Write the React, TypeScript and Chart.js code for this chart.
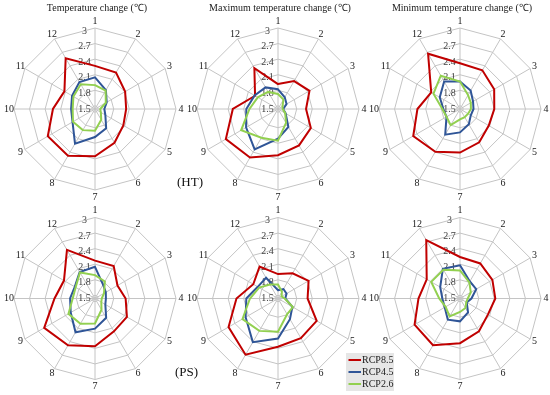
import { useEffect, useRef } from "react";
import { Chart, registerables } from "chart.js";

Chart.register(...registerables);

const MONTHS = ["1", "2", "3", "4", "5", "6", "7", "8", "9", "10", "11", "12"];
const TICKS = [1.5, 1.8, 2.1, 2.4, 2.7, 3];
const TICK_LABELS = ["1.5", "1.8", "2.1", "2.4", "2.7", "3"];
const SCALE_MIN = 1.44;
const SCALE_MAX = 3;
const SERIES_NAMES = ["RCP8.5", "RCP4.5", "RCP2.6"];
const SERIES_COLORS = ["#c00000", "#2f5597", "#92d050"];
const TITLES = [
  "Temperature change (\u2103)",
  "Maximum temperature change (\u2103)",
  "Minimum temperature change (\u2103)",
];
const GROUPS = ["(HT)", "(PS)"];

// HT – mean temperature
const HT_T_85 = [2.27, 2.25, 2.11, 2.04, 2.07, 2.19, 2.35, 2.48, 2.49, 2.25, 2.12, 2.57];
const HT_T_45 = [2.05, 1.86, 1.7, 1.62, 1.67, 1.87, 1.98, 2.21, 1.94, 1.9, 1.95, 2.04];
const HT_T_26 = [1.9, 1.85, 1.68, 1.54, 1.57, 1.68, 1.86, 1.91, 1.93, 1.87, 1.92, 1.99];
// HT – maximum temperature
const HT_MAX_85 = [1.92, 2.06, 2.14, 1.98, 2.17, 2.25, 2.33, 2.52, 2.6, 2.31, 1.95, 2.35];
const HT_MAX_45 = [1.82, 1.7, 1.63, 1.54, 1.61, 1.84, 2.01, 2.34, 2.15, 2.05, 1.96, 1.92];
const HT_MAX_26 = [1.73, 1.65, 1.54, 1.53, 1.6, 1.75, 2.05, 2.08, 2.26, 1.99, 1.89, 1.82];
// HT – minimum temperature
const HT_MIN_85 = [2.32, 2.3, 2.2, 2.1, 2.08, 2.18, 2.28, 2.39, 2.48, 2.26, 2.08, 2.67];
const HT_MIN_45 = [1.97, 1.85, 1.73, 1.7, 1.68, 1.78, 1.89, 2.01, 1.74, 1.76, 1.89, 2.05];
const HT_MIN_26 = [1.97, 1.75, 1.68, 1.65, 1.62, 1.62, 1.64, 1.8, 1.74, 1.78, 2.03, 2.18];
// PS – mean temperature
const PS_T_85 = [2.17, 2.16, 1.94, 2.03, 2.15, 2.17, 2.36, 2.48, 2.57, 2.22, 2.13, 2.52];
const PS_T_45 = [2.05, 1.75, 1.68, 1.65, 1.67, 1.87, 2.02, 2.19, 1.98, 1.92, 1.89, 2.03];
const PS_T_26 = [1.89, 1.82, 1.64, 1.57, 1.58, 1.69, 1.92, 2.0, 2.03, 1.87, 1.87, 2.02];
// PS – maximum temperature
const PS_MAX_85 = [1.91, 2.0, 2.12, 2.01, 2.3, 2.32, 2.37, 2.69, 2.54, 2.24, 1.99, 2.15];
const PS_MAX_45 = [1.6, 1.65, 1.63, 1.58, 1.76, 1.9, 2.21, 2.41, 2.16, 2.05, 1.89, 1.9];
const PS_MAX_26 = [1.71, 1.59, 1.52, 1.57, 1.77, 1.79, 2.08, 2.16, 2.23, 1.98, 1.86, 1.75];
// PS – minimum temperature
const PS_MIN_85 = [2.24, 2.22, 2.16, 2.12, 2.06, 2.17, 2.3, 2.48, 2.45, 2.24, 2.18, 2.74];
const PS_MIN_45 = [2.08, 1.82, 1.8, 1.66, 1.59, 1.75, 1.88, 1.91, 1.78, 1.78, 1.88, 2.1];
const PS_MIN_26 = [1.98, 1.8, 1.68, 1.59, 1.58, 1.65, 1.7, 1.84, 1.76, 1.84, 2.08, 2.08];

const W = 550;
const H = 395;
const RADIUS = 81;
const COL_X = [95, 278, 460];
const ROW_Y = [109, 298.5];
const FONT = '"Liberation Serif", "Times New Roman", serif';
const GRID = "#c4c4c4";

type Panel = { title: string | null; series: number[][]; cx: number; cy: number; extras: boolean };

const PANELS: Panel[] = [
  { title: TITLES[0], series: [HT_T_85, HT_T_45, HT_T_26], cx: COL_X[0], cy: ROW_Y[0], extras: false },
  { title: TITLES[1], series: [HT_MAX_85, HT_MAX_45, HT_MAX_26], cx: COL_X[1], cy: ROW_Y[0], extras: false },
  { title: TITLES[2], series: [HT_MIN_85, HT_MIN_45, HT_MIN_26], cx: COL_X[2], cy: ROW_Y[0], extras: false },
  { title: null, series: [PS_T_85, PS_T_45, PS_T_26], cx: COL_X[0], cy: ROW_Y[1], extras: false },
  { title: null, series: [PS_MAX_85, PS_MAX_45, PS_MAX_26], cx: COL_X[1], cy: ROW_Y[1], extras: false },
  { title: null, series: [PS_MIN_85, PS_MIN_45, PS_MIN_26], cx: COL_X[2], cy: ROW_Y[1], extras: true },
];

function makePanelPlugin(panel: Panel) {
  return {
    id: "panelText",
    beforeDatasetsDraw(chart: any) {
      const s = chart.scales.r;
      const ctx = chart.ctx;
      ctx.save();
      ctx.textAlign = "center";
      ctx.textBaseline = "middle";
      ctx.font = `10px ${FONT}`;
      ctx.fillStyle = "#404040";
      TICKS.forEach((v, i) => {
        const d = s.getDistanceFromCenterForValue(v);
        ctx.fillText(TICK_LABELS[i], s.xCenter - 10.5, s.yCenter - d + 3);
      });
      ctx.fillStyle = "#1a1a1a";
      MONTHS.forEach((m, i) => {
        const dist = i === 0 || i === 6 ? RADIUS + 7 : RADIUS + 5;
        const p = s.getPointPosition(i, dist);
        ctx.fillText(m, p.x, p.y);
      });
      if (panel.title) {
        ctx.fillText(panel.title, s.xCenter + 2, s.yCenter - 100.5);
      }
      ctx.restore();
    },
    afterDraw(chart: any) {
      if (!panel.extras) return;
      const ctx = chart.ctx;
      ctx.save();
      ctx.fillStyle = "#111";
      ctx.textAlign = "left";
      ctx.textBaseline = "middle";
      ctx.font = `13px ${FONT}`;
      ctx.fillText(GROUPS[0], 177, 182.5);
      ctx.fillText(GROUPS[1], 175, 373);
      // legend
      ctx.fillStyle = "#e6e6e6";
      ctx.fillRect(346, 353, 48, 38);
      ctx.font = `10px ${FONT}`;
      SERIES_NAMES.forEach((n, i) => {
        const y = 360 + i * 12;
        ctx.strokeStyle = SERIES_COLORS[i];
        ctx.lineWidth = 2;
        ctx.beginPath();
        ctx.moveTo(348.5, y);
        ctx.lineTo(361, y);
        ctx.stroke();
        ctx.fillStyle = "#1a1a1a";
        ctx.fillText(n, 362, y + 0.5);
      });
      ctx.restore();
    },
  };
}

function RadarPanel({ panel }: { panel: Panel }) {
  const ref = useRef<HTMLCanvasElement | null>(null);
  useEffect(() => {
    if (!ref.current) return;
    const chart = new Chart(ref.current, {
      type: "radar",
      data: {
        labels: MONTHS,
        datasets: panel.series.map((vals, i) => ({
          label: SERIES_NAMES[i],
          data: vals,
          borderColor: SERIES_COLORS[i],
          backgroundColor: SERIES_COLORS[i],
          borderWidth: 2,
          pointRadius: 0,
          pointHoverRadius: 0,
          fill: false,
          tension: 0,
          order: 3 - i,
        })),
      },
      options: {
        responsive: false,
        animation: false,
        events: [],
        layout: { padding: 0 },
        plugins: { legend: { display: false }, tooltip: { enabled: false }, title: { display: false } },
        scales: {
          r: {
            min: SCALE_MIN,
            max: SCALE_MAX,
            afterBuildTicks: (sc: any) => {
              sc.ticks = [SCALE_MIN, ...TICKS].map((v) => ({ value: v }));
            },
            afterFit: (sc: any) => {
              sc.xCenter = panel.cx;
              sc.yCenter = panel.cy;
              sc.drawingArea = RADIUS;
            },
            ticks: { display: false },
            pointLabels: { display: false },
            grid: { color: GRID, lineWidth: 1 },
            angleLines: { color: GRID, lineWidth: 1 },
          },
        },
      } as any,
      plugins: [makePanelPlugin(panel)],
    });
    return () => chart.destroy();
  }, [panel]);
  return (
    <canvas
      ref={ref}
      width={W}
      height={H}
      style={{ position: "absolute", left: 0, top: 0, width: W, height: H }}
    />
  );
}

export default function App() {
  return (
    <div style={{ position: "absolute", left: 0, top: 0, width: W, height: H, background: "#fff" }}>
      {PANELS.map((p, i) => (
        <RadarPanel key={i} panel={p} />
      ))}
    </div>
  );
}
